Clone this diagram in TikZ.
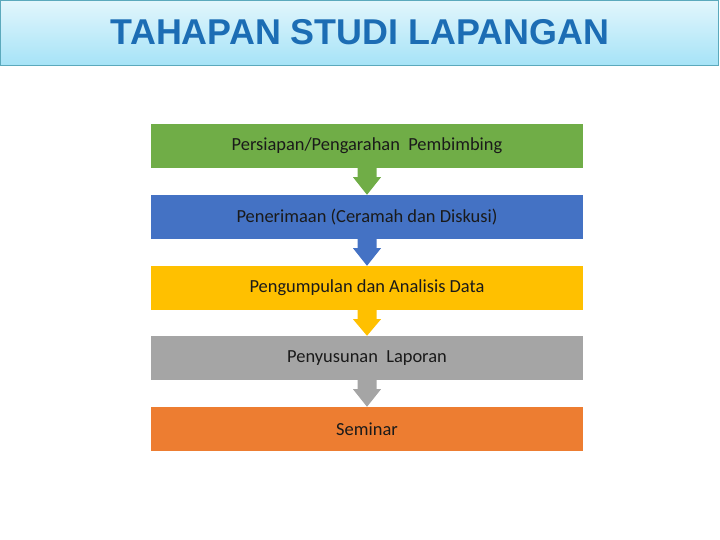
\documentclass[tikz,border=0pt]{standalone}
\usepackage{fontspec}
\setmainfont{Carlito}
\newfontfamily\titlefont{Liberation Sans}
\definecolor{tsGreen}{HTML}{70AD47}
\definecolor{tsBlue}{HTML}{4472C4}
\definecolor{tsYellow}{HTML}{FFC000}
\definecolor{tsGray}{HTML}{A5A5A5}
\definecolor{tsOrange}{HTML}{ED7D31}
\definecolor{tsTitle}{HTML}{1C6DB4}
\definecolor{tsBarTop}{HTML}{E2F6FC}
\definecolor{tsBarBot}{HTML}{A6E3F7}
\definecolor{tsBarLine}{HTML}{5BA9BC}
\definecolor{tsText}{HTML}{1A1A1A}
\usetikzlibrary{calc,positioning}

\tikzset{
  stagebox/.style={minimum width=432bp, minimum height=44bp, inner sep=0pt,
    text=tsText, font=\fontsize{18.5}{21}\selectfont},
}

\begin{document}
\begin{tikzpicture}[x=1bp, y=-1bp]
  \useasboundingbox (0,0) rectangle (720,540);

  % Title bar
  \shade[top color=tsBarTop, bottom color=tsBarBot, draw=tsBarLine] (0.5,0.5) rectangle (718,65);
  \node[text=tsTitle, font=\titlefont\bfseries\fontsize{36}{40}\selectfont] (title) at (360,32) {TAHAPAN STUDI LAPANGAN};

  % Stages
  \node[stagebox, fill=tsGreen] (persiapan) at (367,146) {Persiapan/Pengarahan\ \ Pembimbing};
  \node[stagebox, fill=tsBlue] (penerimaan) at (367,217) {Penerimaan (Ceramah dan Diskusi)};
  \node[stagebox, fill=tsYellow] (pengumpulan) at (367,288) {Pengumpulan dan Analisis Data};
  \node[stagebox, fill=tsGray] (penyusunan) at (367,358) {Penyusunan\ \ Laporan};
  \node[stagebox, fill=tsOrange] (seminar) at (367,429) {Seminar};

  % Arrows
  \foreach \a/\b/\c in {persiapan/penerimaan/tsGreen, penerimaan/pengumpulan/tsBlue,
                        pengumpulan/penyusunan/tsYellow, penyusunan/seminar/tsGray}{
    \fill[\c] ($(\a.south)+(-9.5,0)$) -- ($(\a.south)+(9.5,0)$) -- ($(\a.south)+(9.5,9)$)
      -- ($(\a.south)+(14,9)$) -- (\b.north) -- ($(\a.south)+(-14,9)$)
      -- ($(\a.south)+(-9.5,9)$) -- cycle;
  }
\end{tikzpicture}
\end{document}
